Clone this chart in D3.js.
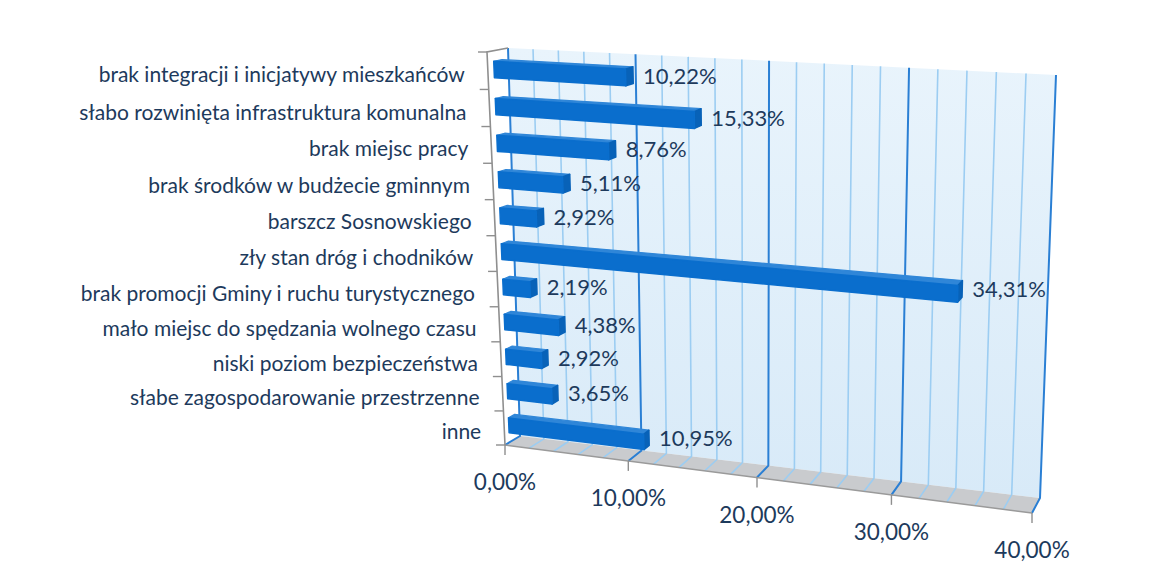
<!DOCTYPE html>
<html>
<head>
<meta charset="utf-8">
<script src="https://cdn.jsdelivr.net/npm/d3@7"></script>
<style>
  html, body { margin: 0; background: #ffffff; }
  svg { display: block; }
</style>
</head>
<body>
<svg id="chart" width="1155" height="576"></svg>
<script>
// ---- data ----
const categories = [
  "brak integracji i inicjatywy mieszkańców",
  "słabo rozwinięta infrastruktura komunalna",
  "brak miejsc pracy",
  "brak środków w budżecie gminnym",
  "barszcz Sosnowskiego",
  "zły stan dróg i chodników",
  "brak promocji Gminy i ruchu turystycznego",
  "mało miejsc do spędzania wolnego czasu",
  "niski poziom bezpieczeństwa",
  "słabe zagospodarowanie przestrzenne",
  "inne"
];
const values = [10.22, 15.33, 8.76, 5.11, 2.92, 34.31, 2.19, 4.38, 2.92, 3.65, 10.95];
const axisTicks = [0, 10, 20, 30, 40];
const gridStep = 2;

// ---- perspective box: back wall and front plane corners (TL, TR, BR, BL) ----
const backPlane  = [[508, 48], [1056, 75], [1040, 498], [520, 436]];
const frontPlane = [[487, 52], [1043, 86], [1032, 513], [505, 445]];

// unit square -> quadrilateral projective map
function quadMap(q) {
  const [[x0, y0], [x1, y1], [x2, y2], [x3, y3]] = q;
  const dx1 = x1 - x2, dx2 = x3 - x2, dx3 = x0 - x1 + x2 - x3;
  const dy1 = y1 - y2, dy2 = y3 - y2, dy3 = y0 - y1 + y2 - y3;
  const den = dx1 * dy2 - dx2 * dy1;
  const g = (dx3 * dy2 - dx2 * dy3) / den;
  const h = (dx1 * dy3 - dx3 * dy1) / den;
  const a = x1 - x0 + g * x1, b = x3 - x0 + h * x3, c = x0;
  const d = y1 - y0 + g * y1, e = y3 - y0 + h * y3, f = y0;
  return (u, v) => {
    const wgt = g * u + h * v + 1;
    return [(a * u + b * v + c) / wgt, (d * u + e * v + f) / wgt];
  };
}
const back = quadMap(backPlane);
const front = quadMap(frontPlane);
// u: value fraction, v: vertical fraction (0 top), w: depth (0 back wall, 1 front)
function P(u, v, w) {
  const b = back(u, v), f = front(u, v);
  return [b[0] + (f[0] - b[0]) * w, b[1] + (f[1] - b[1]) * w];
}

const x = d3.scaleLinear().domain([0, 40]).range([0, 1]);
const y = d3.scaleBand().domain(categories).range([0, 1]).paddingInner(0.56).paddingOuter(0.28);

const pct = d3.formatLocale({ decimal: ",", thousands: " ", grouping: [3], currency: ["", ""] }).format(".2f");
const fmt = v => pct(v) + "%";

const svg = d3.select("#chart");
const poly = pts => "M" + pts.map(p => p[0].toFixed(2) + "," + p[1].toFixed(2)).join("L") + "Z";
const FONT = "Lato, 'Open Sans', sans-serif";
const TEXT = "#1d3a5c";

// ---- back wall ----
const defs = svg.append("defs");
const grad = defs.append("linearGradient").attr("id", "wallFill")
  .attr("x1", 0).attr("y1", 0).attr("x2", 0).attr("y2", 1);
grad.append("stop").attr("offset", "0%").attr("stop-color", "#e9f4fc");
grad.append("stop").attr("offset", "100%").attr("stop-color", "#d8eaf8");

svg.append("path")
  .attr("d", poly([P(0, 0, 0), P(1, 0, 0), P(1, 1, 0), P(0, 1, 0)]))
  .attr("fill", "url(#wallFill)");

// ---- floor ----
svg.append("path")
  .attr("d", poly([P(0, 1, 0), P(1, 1, 0), P(1, 1, 1), P(0, 1, 1)]))
  .attr("fill", "#c9cbce");

// ---- gridlines (wall + floor) ----
const gridVals = d3.range(0, 40 + 1e-9, gridStep);
const gridG = svg.append("g");
gridVals.forEach(t => {
  const major = Math.abs(t % 10) < 1e-9;
  const col = major ? "#2a7fd4" : "#9ccdf2";
  const sw = major ? 2 : 1.6;
  const a = P(x(t), 0, 0), b = P(x(t), 1, 0), c = P(x(t), 1, 1);
  gridG.append("path").attr("d", `M${a}L${b}L${c}`)
    .attr("fill", "none").attr("stroke", col).attr("stroke-width", sw);
});

// floor front edge
svg.append("path")
  .attr("d", `M${P(0, 1, 1)}L${P(1, 1, 1)}`)
  .attr("stroke", "#9a9a9a").attr("stroke-width", 1.5).attr("fill", "none");

// ---- category axis (front-left edge) ----
const axisCol = "#8f8f8f";
svg.append("path")
  .attr("d", `M${P(0, 0, 0)}L${P(0, 0, 1)}L${P(0, 1, 1)}`)
  .attr("stroke", axisCol).attr("stroke-width", 1.6).attr("fill", "none");
d3.range(categories.length + 1).forEach(k => {
  const p = P(0, k / categories.length, 1);
  svg.append("line")
    .attr("x1", p[0]).attr("y1", p[1]).attr("x2", p[0] - 9).attr("y2", p[1])
    .attr("stroke", axisCol).attr("stroke-width", 1.4);
});

// ---- value axis ticks & labels ----
axisTicks.forEach(t => {
  const p = P(x(t), 1, 1);
  svg.append("line")
    .attr("x1", p[0]).attr("y1", p[1]).attr("x2", p[0]).attr("y2", p[1] + 10)
    .attr("stroke", axisCol).attr("stroke-width", 1.4);
  svg.append("text")
    .attr("x", p[0]).attr("y", p[1] + 45)
    .attr("text-anchor", "middle")
    .attr("font-family", FONT).attr("font-size", 22.5)
    .attr("fill", TEXT)
    .text(fmt(t));
});

// ---- bars ----
const wFront = 0.7, wBack = 0.3;
const barG = svg.append("g");
categories.forEach((cat, i) => {
  const u0 = x(0), u1 = x(values[i]);
  const v0 = y(cat), v1 = v0 + y.bandwidth();
  const g = barG.append("g").attr("stroke-linejoin", "round");
  // top face
  g.append("path")
    .attr("d", poly([P(u0, v0, wBack), P(u1, v0, wBack), P(u1, v0, wFront), P(u0, v0, wFront)]))
    .attr("fill", "#2f86d8").attr("stroke", "#2f86d8").attr("stroke-width", 1.2);
  // end face
  g.append("path")
    .attr("d", poly([P(u1, v0, wBack), P(u1, v1, wBack), P(u1, v1, wFront), P(u1, v0, wFront)]))
    .attr("fill", "#0862b8").attr("stroke", "#0862b8").attr("stroke-width", 1.5);
  // front face
  g.append("path")
    .attr("d", poly([P(u0, v0, wFront), P(u1, v0, wFront), P(u1, v1, wFront), P(u0, v1, wFront)]))
    .attr("fill", "#0a6ecd").attr("stroke", "#0a6ecd").attr("stroke-width", 1.5);

  // value label
  const e = P(u1, (v0 + v1) / 2, wBack);
  svg.append("text")
    .attr("x", e[0] + 10).attr("y", e[1])
    .attr("dominant-baseline", "central")
    .attr("font-family", FONT).attr("font-size", 22)
    .attr("fill", TEXT)
    .text(fmt(values[i]));

  // category label
  const c = P(0, (v0 + v1) / 2, 1);
  svg.append("text")
    .attr("x", c[0] - 23).attr("y", c[1] + 3)
    .attr("text-anchor", "end")
    .attr("dominant-baseline", "central")
    .attr("font-family", FONT).attr("font-size", 21)
    .attr("fill", TEXT)
    .text(cat);
});
</script>
</body>
</html>
